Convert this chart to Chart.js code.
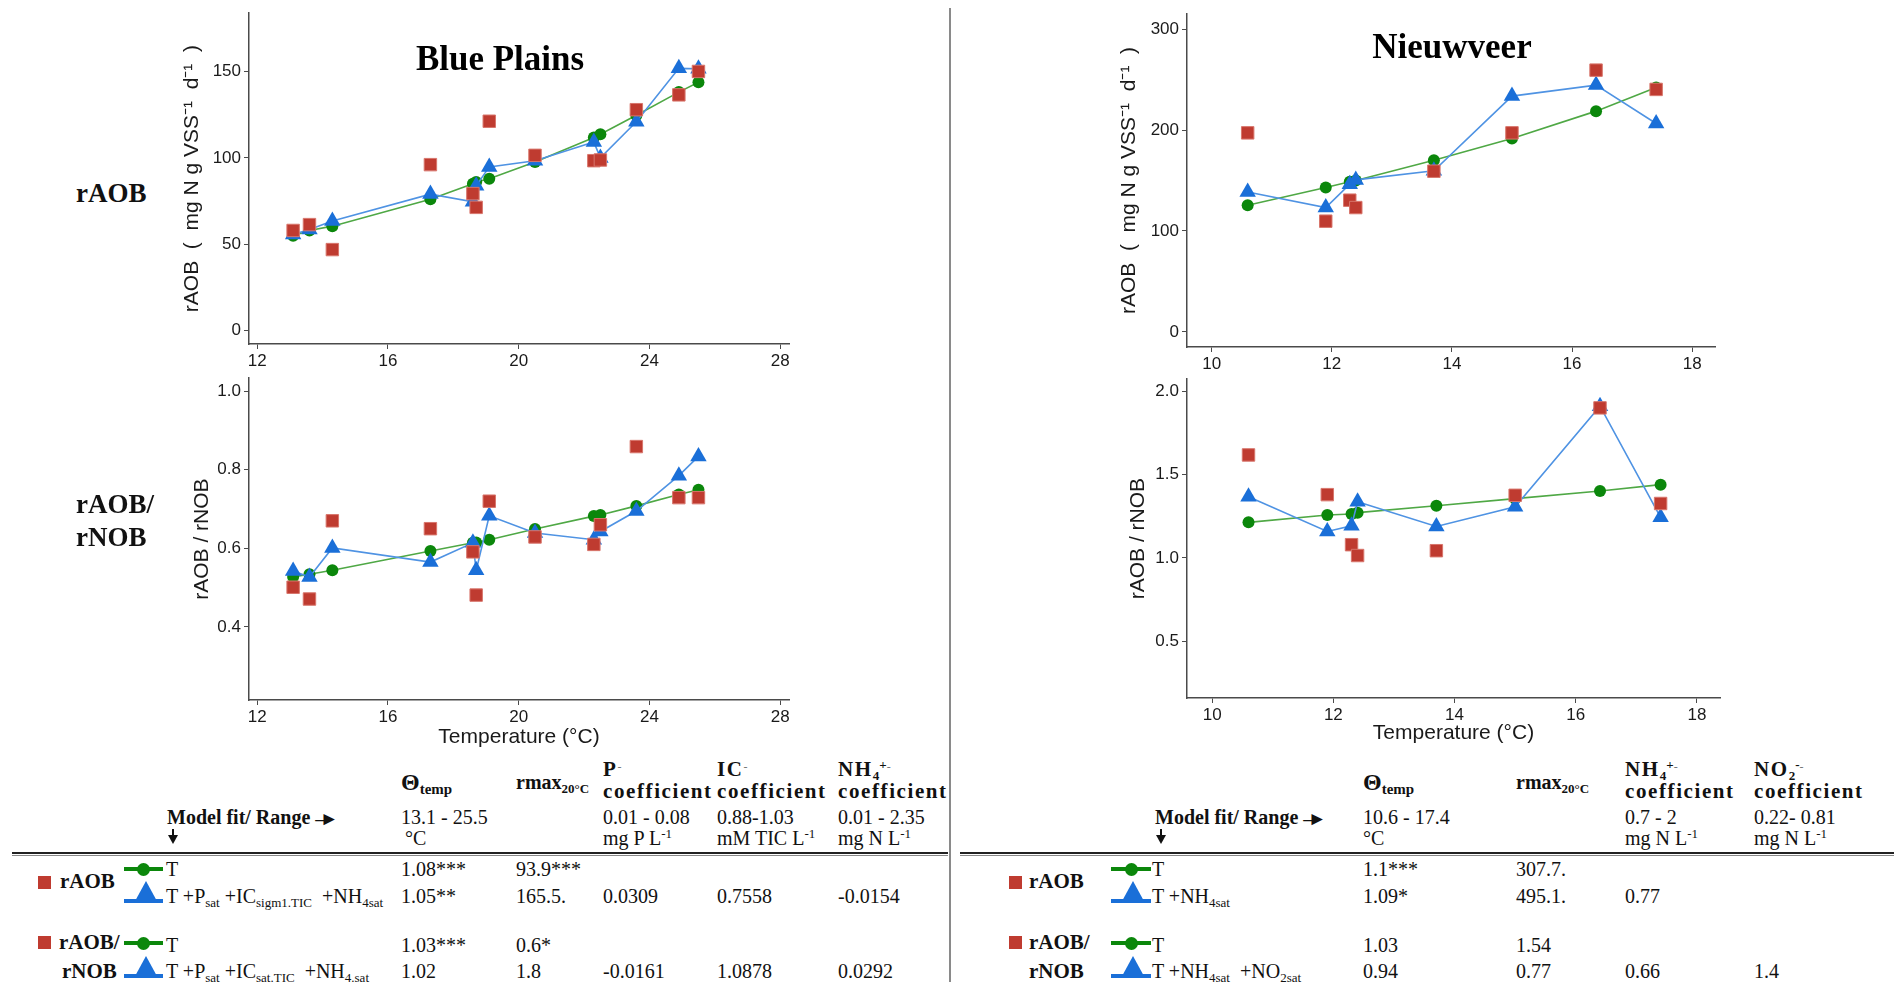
<!DOCTYPE html>
<html>
<head>
<meta charset="utf-8">
<script src="https://cdn.jsdelivr.net/npm/chart.js@4.4.1/dist/chart.umd.min.js"></script>
<style>
  body { margin: 0; background: #fff; }
  #wrap { position: relative; width: 1894px; height: 982px; overflow: hidden; background: #fff; }
  canvas { position: absolute; }
  .t { position: absolute; white-space: nowrap; font-family: 'Liberation Serif', 'Times New Roman', serif;
       font-size: 20px; line-height: 20px; color: #111; }
  .b { font-weight: bold; }
  .h { font-weight: bold; font-size: 21px; letter-spacing: 1.6px; }
  .t sub { font-size: 13px; vertical-align: -4px; line-height: 0; letter-spacing: 0; }
  .t sup { font-size: 13px; vertical-align: 7px; line-height: 0; letter-spacing: 0; }
  .t .dash { font-size: 12px; color: #777; font-weight: normal; vertical-align: 5px; }
  .t .arr { font-size: 19px; letter-spacing: -5px; vertical-align: -1px; }
  .t .big { font-size: 24px; }
  .t .big + sub { font-size: 15px; }
  .lbl { position: absolute; white-space: nowrap; font-family: 'Liberation Serif', serif; font-weight: bold;
         font-size: 27px; line-height: 27px; color: #111; }
  .ttl { position: absolute; white-space: nowrap; font-family: 'Liberation Serif', serif; font-weight: bold;
         font-size: 35px; line-height: 35px; color: #000; transform: translateX(-50%); }
</style>
</head>
<body>
<div id="wrap"></div>
<script>
// Blue Plains
const BP_TEMP = [13.1, 13.6, 14.3, 17.3, 18.6, 18.7, 19.1, 20.5, 22.3, 22.5, 23.6, 24.9, 25.5];
const BP_RAOB_OBS = [57.9, 61.3, 46.8, 96.1, 79.3, 71.3, 121.3, 101.5, 98.4, 98.8, 128, 136.6, 150.2];
const BP_RAOB_T = [54.8, 57.9, 60.4, 76, 85, 86, 87.9, 97.6, 111.8, 113.7, 124.8, 138.2, 143.9];
const BP_RAOB_FULL = [55.5, 58.5, 63.4, 79, 74.5, 83.8, 94.8, 98.4, 109.2, 100, 121, 152, 151.8];
const BP_RATIO_OBS = [0.501, 0.471, 0.670, 0.650, 0.591, 0.481, 0.720, 0.629, 0.610, 0.660, 0.859, 0.729, 0.729];
const BP_RATIO_T = [0.527, 0.534, 0.544, 0.593, 0.614, 0.615, 0.622, 0.649, 0.682, 0.685, 0.708, 0.737, 0.749];
const BP_RATIO_FULL = [0.542, 0.527, 0.601, 0.565, 0.614, 0.544, 0.683, 0.639, 0.622, 0.643, 0.695, 0.785, 0.834];

// Nieuwveer
const NV_TEMP = [10.6, 11.9, 12.3, 12.4, 13.7, 15.0, 16.4, 17.4];
const NV_RAOB_OBS = [197.2, 109.7, 130.5, 123.2, 159.2, 197.2, 259.3, 240.2];
const NV_RAOB_T = [125.5, 143, 148.7, 150, 170, 191.6, 218.7, 242];
const NV_RAOB_FULL = [138.7, 123.2, 146.3, 150.6, 159.6, 233.6, 244.5, 206.5];
const NV_RATIO_OBS = [1.617, 1.379, 1.079, 1.014, 1.043, 1.375, 1.899, 1.326];
const NV_RATIO_T = [1.213, 1.257, 1.263, 1.271, 1.312, 1.355, 1.401, 1.439];
const NV_RATIO_FULL = [1.366, 1.158, 1.192, 1.336, 1.188, 1.306, 1.909, 1.243];

// ticks
const BP_XTICKS = [12, 16, 20, 24, 28];
const NV_XTICKS = [10, 12, 14, 16, 18];
const BP_RAOB_YTICKS = [0, 50, 100, 150];
const NV_RAOB_YTICKS = [0, 100, 200, 300];
const BP_RATIO_YTICKS = [0.4, 0.6, 0.8, 1.0];
const NV_RATIO_YTICKS = [0.5, 1.0, 1.5, 2.0];

const RED = '#bf3b30', RED_EDGE = '#d8766c';
const BLUE = '#1a6fd8', BLUE_LINE = '#4f93e3';
const GREEN = '#0b870b', GREEN_LINE = '#4fa845';
const AXIS = '#4a4a4a', INK = '#1a1a1a';
const SANS = "'Liberation Sans', Arial, sans-serif";

const wrap = document.getElementById('wrap');

function pts(xs, ys) {
  return xs.map((x, i) => ({ x, y: ys[i] }));
}

function panel(p) {
  const c = document.createElement('canvas');
  c.width = p.w;
  c.height = p.h;
  c.style.left = p.left + 'px';
  c.style.top = p.top + 'px';
  wrap.appendChild(c);

  new Chart(c, {
    type: 'scatter',
    data: {
      datasets: [
        { data: pts(p.temp, p.obs), pointStyle: 'rect', pointRadius: 8.8, backgroundColor: RED,
          borderColor: RED_EDGE, borderWidth: 1, showLine: false },
        { data: pts(p.temp, p.full), showLine: true, borderColor: BLUE_LINE, borderWidth: 1.6, tension: 0,
          pointStyle: 'triangle', pointRadius: 9.5, pointBackgroundColor: BLUE, pointBorderColor: BLUE, pointBorderWidth: 0 },
        { data: pts(p.temp, p.tfit), showLine: true, borderColor: GREEN_LINE, borderWidth: 1.6, tension: 0,
          pointStyle: 'circle', pointRadius: 6, pointBackgroundColor: GREEN, pointBorderColor: GREEN, pointBorderWidth: 0 },
      ],
    },
    options: {
      responsive: false,
      animation: false,
      devicePixelRatio: 1,
      layout: { padding: { top: p.padTop, right: 25, left: 0, bottom: 0 } },
      plugins: { legend: { display: false }, tooltip: { enabled: false } },
      scales: {
        x: {
          type: 'linear', min: p.xMin, max: p.xMax,
          afterBuildTicks: (s) => { s.ticks = p.xTicks.map((v) => ({ value: v })); },
          afterFit: (s) => { s.height = p.xH; },
          ticks: { autoSkip: false, maxRotation: 0, padding: 2, color: INK, font: { family: SANS, size: 17 } },
          grid: { drawOnChartArea: false, tickLength: 5, color: AXIS },
          border: { color: AXIS, width: 1.5 },
          title: {
            display: !!p.xTitle, text: p.xTitle || '', color: INK,
            font: { family: SANS, size: 21 }, padding: { top: 0, bottom: p.xTitlePad || 0 },
          },
        },
        y: {
          type: 'linear', min: p.yMin, max: p.yMax,
          afterBuildTicks: (s) => { s.ticks = p.yTicks.map((v) => ({ value: v })); },
          afterFit: (s) => { s.width = p.yW; },
          ticks: { autoSkip: false, padding: 3, color: INK, font: { family: SANS, size: 17 }, callback: p.yFmt },
          grid: { drawOnChartArea: false, tickLength: 5, color: AXIS },
          border: { color: AXIS, width: 1.5 },
          title: {
            display: true, text: p.yTitle, color: INK,
            font: { family: SANS, size: 21 }, padding: { top: p.yTitlePad, bottom: 0 },
          },
        },
      },
    },
  });
}

const intFmt = (v) => String(v);
const oneDec = (v) => v.toFixed(1);
const RAOB_TITLE = 'rAOB  (  mg N g VSS\u207B\u00B9  d\u207B\u00B9  )';
const RATIO_TITLE = 'rAOB / rNOB';

// Blue Plains rAOB
panel({ left: 150, top: 0, w: 664, h: 384, padTop: 10, yW: 99, xH: 40,
  xMin: 11.75, xMax: 28.27, xTicks: BP_XTICKS,
  yMin: -8, yMax: 184, yTicks: BP_RAOB_YTICKS, yFmt: intFmt,
  yTitle: RAOB_TITLE, yTitlePad: 30,
  temp: BP_TEMP, obs: BP_RAOB_OBS, full: BP_RAOB_FULL, tfit: BP_RAOB_T });

// Blue Plains ratio
panel({ left: 150, top: 365, w: 664, h: 390, padTop: 10, yW: 99, xH: 55,
  xMin: 11.75, xMax: 28.27, xTicks: BP_XTICKS,
  yMin: 0.214, yMax: 1.033, yTicks: BP_RATIO_YTICKS, yFmt: oneDec,
  yTitle: RATIO_TITLE, yTitlePad: 40, xTitle: 'Temperature (°C)', xTitlePad: 5,
  temp: BP_TEMP, obs: BP_RATIO_OBS, full: BP_RATIO_FULL, tfit: BP_RATIO_T });

// Nieuwveer rAOB
panel({ left: 1088, top: 0, w: 652, h: 387, padTop: 14, yW: 99, xH: 40,
  xMin: 9.59, xMax: 18.38, xTicks: NV_XTICKS,
  yMin: -14.9, yMax: 314.9, yTicks: NV_RAOB_YTICKS, yFmt: intFmt,
  yTitle: RAOB_TITLE, yTitlePad: 29,
  temp: NV_TEMP, obs: NV_RAOB_OBS, full: NV_RAOB_FULL, tfit: NV_RAOB_T });

// Nieuwveer ratio
panel({ left: 1088, top: 366, w: 657, h: 387, padTop: 10, yW: 99, xH: 55,
  xMin: 9.585, xMax: 18.38, xTicks: NV_XTICKS,
  yMin: 0.16, yMax: 2.071, yTicks: NV_RATIO_YTICKS, yFmt: oneDec,
  yTitle: RATIO_TITLE, yTitlePad: 38, xTitle: 'Temperature (°C)', xTitlePad: 7,
  temp: NV_TEMP, obs: NV_RATIO_OBS, full: NV_RATIO_FULL, tfit: NV_RATIO_T });

// ---- text and decorations ----
function div(cls, x, top, html) {
  const d = document.createElement('div');
  d.className = cls;
  d.style.left = x + 'px';
  d.style.top = top + 'px';
  d.innerHTML = html;
  wrap.appendChild(d);
  return d;
}
function box(x, y, w, h, css) {
  const d = document.createElement('div');
  d.style.cssText = `position:absolute;left:${x}px;top:${y}px;width:${w}px;height:${h}px;${css}`;
  wrap.appendChild(d);
}

div('ttl', 500, 41, 'Blue Plains');
div('ttl', 1452, 29, 'Nieuwveer');
div('lbl', 76, 180, 'rAOB');
div('lbl', 76, 491, 'rAOB/');
div('lbl', 76, 524, 'rNOB');

// divider
box(949, 8, 2, 974, 'background:#8a8a8a');
// table rules
box(12, 852, 936, 2, 'background:#222');
box(12, 855, 936, 1, 'background:#888');
box(960, 852, 934, 2, 'background:#222');
box(960, 855, 934, 1, 'background:#888');

// table cells: [x, centre y, html, style] (1 = bold, 2 = wide bold header)
const THETA = '<span class="big">Θ</span><sub>temp</sub>';
const LEFT_CELLS = [
  [401, 782, THETA, 1], [516, 782, 'rmax<sub>20°C</sub>', 1],
  [603, 767, 'P<span class="dash">-</span>', 2], [603, 791, 'coefficient', 2],
  [717, 767, 'IC<span class="dash">-</span>', 2], [717, 791, 'coefficient', 2],
  [838, 767, 'NH<sub>4</sub><sup>+</sup><span class="dash">-</span>', 2], [838, 791, 'coefficient', 2],
  [167, 817, 'Model fit/ Range <span class="arr">&#8211;&#9658;</span>', 1],
  [401, 817, '13.1 - 25.5'], [603, 817, '0.01 - 0.08'], [717, 817, '0.88-1.03'], [838, 817, '0.01 - 2.35'],
  [405, 838, '°C'], [603, 838, 'mg P L<sup>-1</sup>'], [717, 838, 'mM TIC L<sup>-1</sup>'], [838, 838, 'mg N L<sup>-1</sup>'],
  [166, 869, 'T'], [401, 869, '1.08***'], [516, 869, '93.9***'],
  [166, 896, 'T +P<sub>sat</sub> +IC<sub>sigm1.TIC</sub> &nbsp;+NH<sub>4sat</sub>'],
  [401, 896, '1.05**'], [516, 896, '165.5.'], [603, 896, '0.0309'], [717, 896, '0.7558'], [838, 896, '-0.0154'],
  [166, 945, 'T'], [401, 945, '1.03***'], [516, 945, '0.6*'],
  [166, 971, 'T +P<sub>sat</sub> +IC<sub>sat.TIC</sub> &nbsp;+NH<sub>4.sat</sub>'],
  [401, 971, '1.02'], [516, 971, '1.8'], [603, 971, '-0.0161'], [717, 971, '1.0878'], [838, 971, '0.0292'],
];
const RIGHT_CELLS = [
  [1363, 782, THETA, 1], [1516, 782, 'rmax<sub>20°C</sub>', 1],
  [1625, 767, 'NH<sub>4</sub><sup>+</sup><span class="dash">-</span>', 2], [1625, 791, 'coefficient', 2],
  [1754, 767, 'NO<sub>2</sub><sup>-</sup><span class="dash">-</span>', 2], [1754, 791, 'coefficient', 2],
  [1155, 817, 'Model fit/ Range <span class="arr">&#8211;&#9658;</span>', 1],
  [1363, 817, '10.6 - 17.4'], [1625, 817, '0.7 - 2'], [1754, 817, '0.22- 0.81'],
  [1363, 838, '°C'], [1625, 838, 'mg N L<sup>-1</sup>'], [1754, 838, 'mg N L<sup>-1</sup>'],
  [1152, 869, 'T'], [1363, 869, '1.1***'], [1516, 869, '307.7.'],
  [1152, 896, 'T +NH<sub>4sat</sub>'], [1363, 896, '1.09*'], [1516, 896, '495.1.'], [1625, 896, '0.77'],
  [1152, 945, 'T'], [1363, 945, '1.03'], [1516, 945, '1.54'],
  [1152, 971, 'T +NH<sub>4sat</sub> &nbsp;+NO<sub>2sat</sub>'],
  [1363, 971, '0.94'], [1516, 971, '0.77'], [1625, 971, '0.66'], [1754, 971, '1.4'],
];
LEFT_CELLS.concat(RIGHT_CELLS).forEach(([x, cy, html, style]) => {
  const cls = style === 2 ? 't h' : style ? 't b' : 't';
  div(cls, x, cy - 10, html);
});

// row labels in the tables
[[60, 882, 'rAOB'], [59, 943, 'rAOB/'], [62, 972, 'rNOB'],
 [1029, 882, 'rAOB'], [1029, 943, 'rAOB/'], [1029, 972, 'rNOB']].forEach(([x, cy, s]) => {
  const d = div('t b', x, cy - 11, s);
  d.style.fontSize = '21px';
  d.style.lineHeight = '21px';
});

// down arrows under "Model fit"
[172, 1160].forEach((x) => {
  box(x, 829, 2, 7, 'background:#111');
  box(x - 4, 835, 0, 0, 'border-left:5px solid transparent;border-right:5px solid transparent;border-top:9px solid #111');
});

// legend symbols
function redSquare(cx, cy) { box(cx - 6.5, cy - 6.5, 13, 13, `background:${RED}`); }
function greenSym(x0, x1, cy) {
  box(x0, cy - 2, x1 - x0, 4, `background:${GREEN}`);
  const cx = (x0 + x1) / 2;
  box(cx - 6.5, cy - 6.5, 13, 13, `background:${GREEN};border-radius:50%`);
}
function blueSym(x0, x1, cy) {
  box(x0, cy + 3, x1 - x0, 4, `background:${BLUE}`);
  const cx = (x0 + x1) / 2 + 2;
  box(cx - 12, cy - 15, 0, 0, `border-left:12px solid transparent;border-right:12px solid transparent;border-bottom:22px solid ${BLUE}`);
}
redSquare(44, 882); redSquare(44, 942);
redSquare(1015, 882); redSquare(1015, 942);
greenSym(124, 163, 869); greenSym(124, 163, 943);
blueSym(124, 163, 896); blueSym(124, 163, 971);
greenSym(1111, 1151, 869); greenSym(1111, 1151, 943);
blueSym(1111, 1151, 896); blueSym(1111, 1151, 971);
</script>
</body>
</html>
